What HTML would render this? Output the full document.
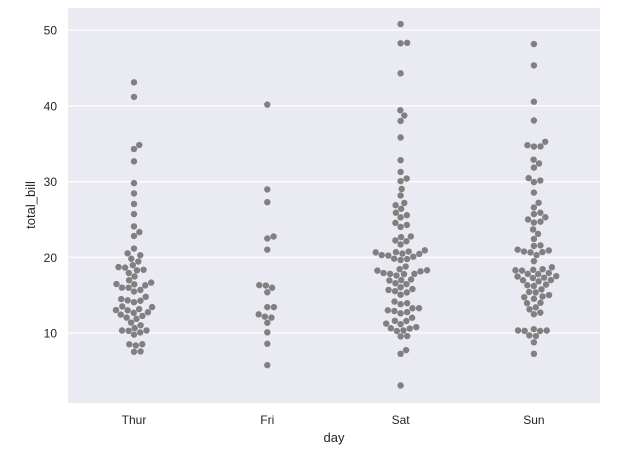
<!DOCTYPE html>
<html><head><meta charset="utf-8"><style>
body{margin:0;background:#fff;font-family:"Liberation Sans",sans-serif}
svg text{font-family:"Liberation Sans",sans-serif;fill:#262626}
</style></head><body>
<svg id="chart" width="617" height="452" xmlns="http://www.w3.org/2000/svg">
<rect x="68" y="8" width="532" height="395" fill="#eaeaf2"/>
<g id="grid"></g><g id="points"></g><g id="labels"></g>
<text x="334" y="442" font-size="13" text-anchor="middle">day</text>
<text transform="translate(35,205) rotate(-90)" font-size="13" text-anchor="middle">total_bill</text>
</svg>
<script>
const categories=["Thur","Fri","Sat","Sun"];
const yTicks=[10,20,30,40,50];
const thur=[43.11,41.19,34.83,34.3,32.68,29.8,28.44,27.05,25.71,24.08,23.33,22.82,21.16,20.53,20.27,19.81,19.44,18.96,18.71,18.64,18.35,18.28,17.92,17.47,16.97,16.66,16.47,16.43,16.29,16.0,15.98,15.69,15.48,14.78,14.48,14.31,14.26,14.07,13.51,13.42,13.16,13.03,13.0,12.74,12.66,12.43,12.26,12.03,11.87,11.38,11.02,10.65,10.34,10.33,10.29,10.07,9.78,8.52,8.51,8.35,7.56,7.51];
const fri=[40.17,28.97,27.28,22.75,22.49,21.01,16.32,16.27,15.98,15.38,13.42,13.42,12.46,12.16,12.03,11.35,10.09,8.58,5.75];
const sat=[50.81,48.33,48.27,44.3,39.42,38.73,38.01,35.83,32.83,31.27,30.4,30.06,29.03,28.17,27.18,26.88,26.41,25.89,25.56,25.28,24.55,24.27,24.01,22.76,22.67,22.23,22.12,21.7,20.92,20.76,20.69,20.65,20.49,20.45,20.29,20.23,20.08,19.82,19.77,19.65,18.78,18.43,18.29,18.24,18.15,17.92,17.82,17.81,17.78,17.59,17.07,16.99,16.93,16.58,16.45,16.04,15.81,15.69,15.53,15.36,15.06,14.15,13.94,13.81,13.28,13.27,13.0,12.9,12.76,12.6,12.02,11.61,11.59,11.24,11.17,10.77,10.63,10.59,10.34,10.27,9.6,9.55,7.74,7.25,3.07];
const sun=[48.17,45.35,40.55,38.07,35.26,34.81,34.65,34.63,32.9,32.4,31.85,30.46,30.14,29.93,28.55,27.2,26.59,25.89,25.71,25.29,25.0,24.71,24.59,23.68,23.1,22.42,21.58,21.5,21.01,20.9,20.76,20.69,20.65,20.29,19.49,18.69,18.43,18.35,18.29,18.24,17.92,17.81,17.78,17.51,17.46,17.31,17.26,16.99,16.97,16.82,16.4,16.31,16.21,15.77,15.42,15.36,15.01,14.83,14.73,14.52,14.0,13.94,13.39,13.13,12.69,12.48,10.51,10.34,10.33,10.29,10.27,9.68,9.6,8.77,7.25];
const series=[thur,fri,sat,sun];
const NS="http://www.w3.org/2000/svg";
function yS(v){return 333-(v-10)*7.57;}
function xS(i){return 134+i*133.3;}
const grid=document.getElementById('grid'),pts=document.getElementById('points'),lab=document.getElementById('labels');
yTicks.forEach(t=>{
 const l=document.createElementNS(NS,'line');
 
 
 l.setAttribute('x1',68);l.setAttribute('x2',600);l.setAttribute('y1',yS(t));l.setAttribute('y2',yS(t));
 l.setAttribute('stroke','#fff');l.setAttribute('stroke-width','1.2');grid.appendChild(l);
 const tx=document.createElementNS(NS,'text');
 
 
 tx.setAttribute('x',57);tx.setAttribute('y',yS(t)+4.5);tx.setAttribute('font-size','12');tx.setAttribute('text-anchor','end');
 tx.textContent=t;lab.appendChild(tx);
});
categories.forEach((c,i)=>{
 const tx=document.createElementNS(NS,'text');
 
 
 tx.setAttribute('x',xS(i));tx.setAttribute('y',424);tx.setAttribute('font-size','12');tx.setAttribute('text-anchor','middle');
 tx.textContent=c;lab.appendChild(tx);
 const vals=series[i].slice().sort((a,b)=>a-b);
 const placed=[];const d=6.6;
 vals.forEach(v=>{
  const y=yS(v);let best=0;
  const cands=[0];for(let k=1;k<40;k++){cands.push(k*0.5,-k*0.5);}
  // candidate offsets by beeswarm: compute positions tangent to neighbors
  let cs=[0];
  placed.forEach(p=>{const dy=Math.abs(p.y-y);if(dy<d){const dx=Math.sqrt(d*d-dy*dy);cs.push(p.x+dx,p.x-dx);}});
  cs.sort((a,b)=>Math.abs(a)-Math.abs(b));
  for(const cx of cs){let ok=true;for(const p of placed){const dx=p.x-cx,dy=p.y-y;if(dx*dx+dy*dy<d*d-0.01){ok=false;break;}}if(ok){best=cx;break;}}
  placed.push({x:best,y:y});
  const ci=document.createElementNS(NS,'circle');
  
  
  ci.setAttribute('cx',xS(i)+best);ci.setAttribute('cy',y);ci.setAttribute('r',3.2);ci.setAttribute('fill','#808080');
  pts.appendChild(ci);
 });
});
</script>
</body></html>
